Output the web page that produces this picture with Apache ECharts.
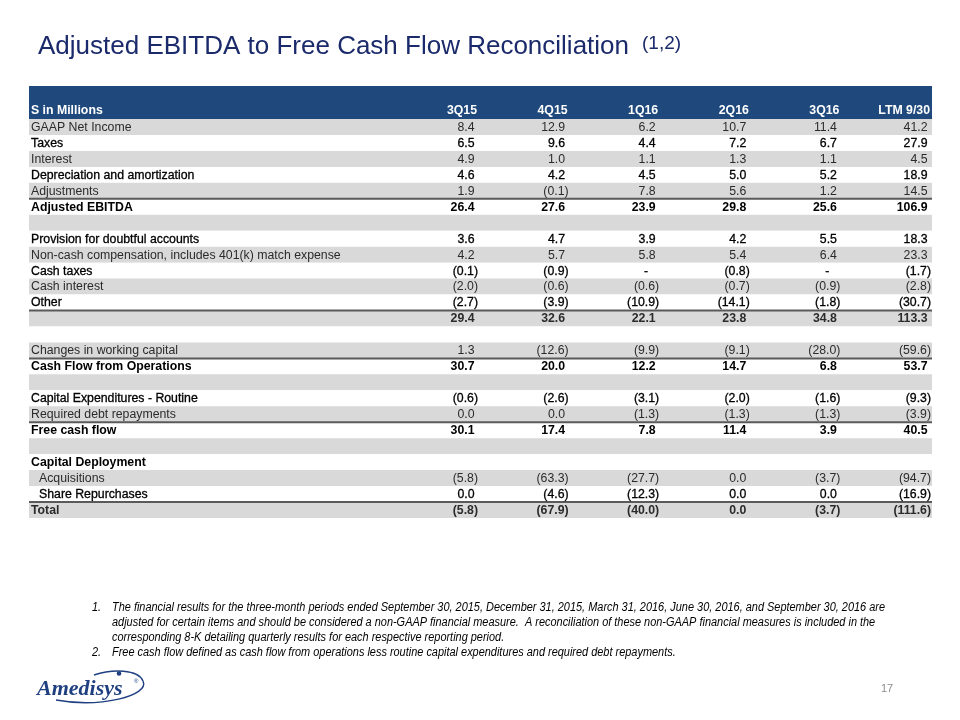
<!DOCTYPE html>
<html><head><meta charset="utf-8">
<script src="https://cdn.jsdelivr.net/npm/echarts@6/dist/echarts.min.js"></script>
<style>html,body{margin:0;padding:0;background:#fff}#c{width:960px;height:720px}</style>
</head><body><div id="c"></div>
<script>
// ---------- data ----------
const titleText = 'Adjusted EBITDA to Free Cash Flow Reconciliation';
const titleNote = '(1,2)';
const headerLabel = 'S in Millions';
const periods = ['3Q15', '4Q15', '1Q16', '2Q16', '3Q16', 'LTM 9/30'];
const rowLabels = [
  'GAAP Net Income', 'Taxes', 'Interest', 'Depreciation and amortization', 'Adjustments',
  'Adjusted EBITDA', '',
  'Provision for doubtful accounts', 'Non-cash compensation, includes 401(k) match expense',
  'Cash taxes', 'Cash interest', 'Other', '', '',
  'Changes in working capital', 'Cash Flow from Operations', '',
  'Capital Expenditures - Routine', 'Required debt repayments', 'Free cash flow', '',
  'Capital Deployment', 'Acquisitions', 'Share Repurchases', 'Total'
];
const q3_15 = [8.4, 6.5, 4.9, 4.6, 1.9, 26.4, null, 3.6, 4.2, -0.1, -2.0, -2.7, 29.4, null, 1.3, 30.7, null, -0.6, 0.0, 30.1, null, null, -5.8, 0.0, -5.8];
const q4_15 = [12.9, 9.6, 1.0, 4.2, -0.1, 27.6, null, 4.7, 5.7, -0.9, -0.6, -3.9, 32.6, null, -12.6, 20.0, null, -2.6, 0.0, 17.4, null, null, -63.3, -4.6, -67.9];
const q1_16 = [6.2, 4.4, 1.1, 4.5, 7.8, 23.9, null, 3.9, 5.8, '-', -0.6, -10.9, 22.1, null, -9.9, 12.2, null, -3.1, -1.3, 7.8, null, null, -27.7, -12.3, -40.0];
const q2_16 = [10.7, 7.2, 1.3, 5.0, 5.6, 29.8, null, 4.2, 5.4, -0.8, -0.7, -14.1, 23.8, null, -9.1, 14.7, null, -2.0, -1.3, 11.4, null, null, 0.0, 0.0, 0.0];
const q3_16 = [11.4, 6.7, 1.1, 5.2, 1.2, 25.6, null, 5.5, 6.4, '-', -0.9, -1.8, 34.8, null, -28.0, 6.8, null, -1.6, -1.3, 3.9, null, null, -3.7, 0.0, -3.7];
const ltm   = [41.2, 27.9, 4.5, 18.9, 14.5, 106.9, null, 18.3, 23.3, -1.7, -2.8, -30.7, 113.3, null, -59.6, 53.7, null, -9.3, -3.9, 40.5, null, null, -94.7, -16.9, -111.6];
const footnotes = [
  ['1.', 'The financial results for the three-month periods ended September 30, 2015, December 31, 2015, March 31, 2016, June 30, 2016, and September 30, 2016 are'],
  ['', 'adjusted for certain items and should be considered a non-GAAP financial measure.  A reconciliation of these non-GAAP financial measures is included in the'],
  ['', 'corresponding 8-K detailing quarterly results for each respective reporting period.'],
  ['2.', 'Free cash flow defined as cash flow from operations less routine capital expenditures and required debt repayments.']
];
const pageNumber = '17';
const logoText = 'Amedisys';

// ---------- styling config ----------
const columns = [q3_15, q4_15, q1_16, q2_16, q3_16, ltm];
const boldRows = [5, 12, 15, 19, 21, 24];
const ruleAbove = [5, 12, 15, 19, 24];
const indentRows = [22, 23];
const FONT = "'Liberation Sans', Arial, sans-serif";
const FS = '12.3px ';
const GREY = '#d9d9d9';
const NAVY = '#1f497d';
const xMin = -3.956, xMax = 6.011;

function fmt(v) {
  if (v === '-') return '-';
  if (v < 0) return '(' + Math.abs(v).toFixed(1) + ')';
  return v.toFixed(1);
}
function rowFill(i) { return i % 2 === 0 ? GREY : '#ffffff'; }
function rowText(i) { return i % 2 === 0 ? '#2b2b2b' : '#000000'; }
function rowWeight(i) { return boldRows.indexOf(i) >= 0 ? 'bold' : 'normal'; }
function heavy(i) { return i % 2 === 1 && rowWeight(i) === 'normal'; }

const chart = echarts.init(document.getElementById('c'), null, { renderer: 'canvas' });

const series = [];
// header band
series.push({
  type: 'custom', coordinateSystem: 'cartesian2d', silent: true, clip: false, z: 1,
  data: [[1, 0]],
  renderItem: function (params, api) {
    const cs = params.coordSys;
    const children = [{
      type: 'rect', shape: { x: cs.x, y: cs.y - 33, width: cs.width, height: 33 },
      style: { fill: NAVY }
    }, {
      type: 'text', x: cs.x + 2, y: cs.y - 8,
      style: { text: headerLabel, fill: '#fff', font: 'bold ' + FS + FONT, verticalAlign: 'middle', align: 'left' }
    }];
    periods.forEach(function (p, k) {
      const pt = api.coord([k + 1, 0]);
      children.push({
        type: 'text', x: pt[0] - 1, y: cs.y - 8,
        style: { text: p, fill: '#fff', font: 'bold ' + FS + FONT, verticalAlign: 'middle', align: 'right' }
      });
    });
    return { type: 'group', children: children };
  }
});
// row backgrounds and labels
series.push({
  type: 'custom', coordinateSystem: 'cartesian2d', silent: true, clip: false, z: 2,
  data: rowLabels.map(function (l, i) { return [xMin, i]; }),
  renderItem: function (params, api) {
    const cs = params.coordSys;
    const i = params.dataIndex;
    const pt = api.coord([xMin, i]);
    const h = api.size([0, 1])[1];
    const children = [{
      type: 'rect', shape: { x: cs.x, y: pt[1] - h / 2, width: cs.width, height: h },
      style: { fill: rowFill(i) }
    }];
    if (rowLabels[i]) {
      const st = {
        text: rowLabels[i], fill: rowText(i), font: rowWeight(i) + ' ' + FS + FONT,
        verticalAlign: 'middle', align: 'left'
      };
      if (heavy(i)) { st.stroke = '#000'; st.lineWidth = 0.3; }
      children.push({
        type: 'text', x: cs.x + 2 + (indentRows.indexOf(i) >= 0 ? 8 : 0), y: pt[1] + 0.5, style: st
      });
    }
    if (ruleAbove.indexOf(i) >= 0) {
      children.push({
        type: 'line', shape: { x1: cs.x, y1: pt[1] - h / 2, x2: cs.x + cs.width, y2: pt[1] - h / 2 },
        style: { stroke: '#5a5a5a', lineWidth: 2 }
      });
    }
    return { type: 'group', children: children };
  }
});
// value columns
columns.forEach(function (arr, k) {
  series.push({
    type: 'custom', coordinateSystem: 'cartesian2d', silent: true, clip: false, z: 3,
    data: arr.map(function (v, i) { return [k + 1, i]; }),
    renderItem: function (params, api) {
      const i = params.dataIndex;
      const v = arr[i];
      if (v === null || v === undefined) return null;
      const pt = api.coord([k + 1, i]);
      let dx = 0;
      if (v === '-') dx = -11; else if (v >= 0) dx = -3.5;
      const st = {
        text: fmt(v), fill: rowText(i), font: rowWeight(i) + ' ' + FS + FONT,
        verticalAlign: 'middle', align: 'right'
      };
      if (heavy(i)) { st.stroke = '#000'; st.lineWidth = 0.3; }
      return { type: 'text', x: pt[0] + dx, y: pt[1] + 0.5, style: st };
    }
  });
});

// footnote scale (narrow italic face)
const mctx = document.createElement('canvas').getContext('2d');
mctx.font = "italic 12px " + FONT;
const fnScale = 773 / mctx.measureText(footnotes[0][1]).width;

const graphics = [{
  type: 'text', x: 38, y: 47,
  style: {
    text: '{t|' + titleText + '}{g| }{s|' + titleNote + '}',
    rich: {
      t: { font: '26px ' + FONT, fill: '#1b2a6b', verticalAlign: 'middle' },
      g: { font: '26px ' + FONT, width: 13 },
      s: { font: '19px ' + FONT, fill: '#1b2a6b', verticalAlign: 'top' }
    },
    verticalAlign: 'middle', align: 'left'
  }
}];
footnotes.forEach(function (f, j) {
  const y = 608 + j * 15;
  if (f[0]) graphics.push({ type: 'text', x: 92, y: y, scaleX: fnScale,
    style: { text: f[0], font: 'italic 12px ' + FONT, fill: '#000', verticalAlign: 'middle' } });
  graphics.push({ type: 'text', x: 112, y: y, scaleX: fnScale,
    style: { text: f[1], font: 'italic 12px ' + FONT, fill: '#000', verticalAlign: 'middle' } });
});
graphics.push({ type: 'text', x: 887, y: 689, style: { text: pageNumber, font: '11px ' + FONT, fill: '#8c8c8c', align: 'center', verticalAlign: 'middle' } });
// logo
graphics.push({ type: 'bezierCurve', shape: { x1: 56, y1: 700, cpx1: 100, cpy1: 708, cpx2: 150, cpy2: 696, x2: 143, y2: 681 },
  style: { stroke: '#1f3f80', lineWidth: 1.4, fill: null } });
graphics.push({ type: 'bezierCurve', shape: { x1: 143, y1: 681, cpx1: 138, cpy1: 669, cpx2: 112, cpy2: 669, x2: 94, y2: 675 },
  style: { stroke: '#1f3f80', lineWidth: 1.4, fill: null } });
graphics.push({ type: 'circle', shape: { cx: 119, cy: 673.5, r: 2.3 }, style: { fill: '#1f3f80' } });
graphics.push({ type: 'text', x: 37, y: 689, style: { text: logoText, font: "italic bold 22px 'Liberation Serif', serif", fill: '#1f3f80', verticalAlign: 'middle' } });
graphics.push({ type: 'text', x: 134, y: 681, style: { text: '\u00AE', font: "6px " + FONT, fill: '#1f3f80', verticalAlign: 'middle' } });

chart.setOption({
  animation: false,
  backgroundColor: '#ffffff',
  grid: { left: 29, right: 28, top: 119, height: 399, containLabel: false },
  xAxis: { type: 'value', min: xMin, max: xMax, show: false },
  yAxis: { type: 'category', data: rowLabels.map(function (l, i) { return String(i); }), inverse: true, show: false },
  series: series,
  graphic: graphics
});
</script>
</body></html>
